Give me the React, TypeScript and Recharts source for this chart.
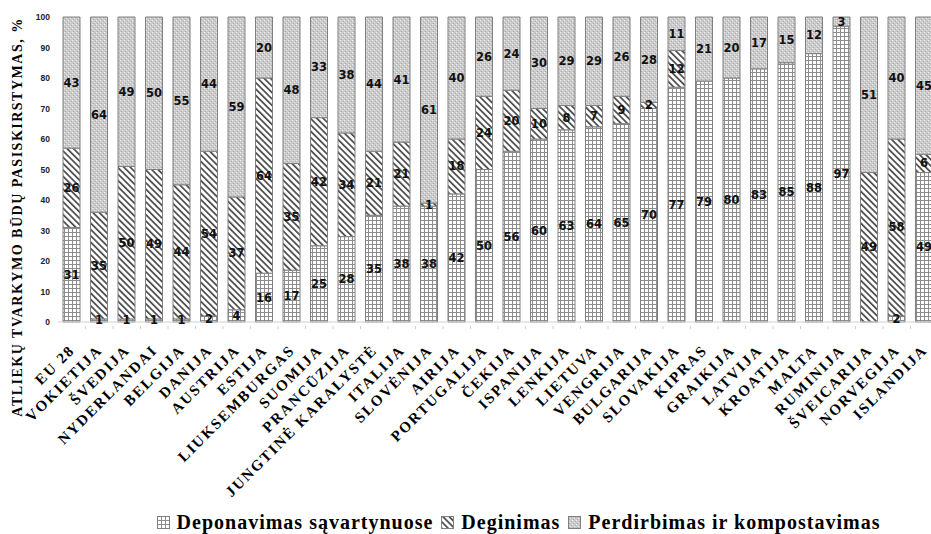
import React from 'react';
import { BarChart, Bar, XAxis, YAxis, Legend, LabelList, Label } from 'recharts';

const categories = ['EU 28','VOKIETIJA','ŠVEDIJA','NYDERLANDAI','BELGIJA','DANIJA','AUSTRIJA','ESTIJA','LIUKSEMBURGAS','SUOMIJA','PRANCŪZIJA','JUNGTINĖ KARALYSTĖ','ITALIJA','SLOVĖNIJA','AIRIJA','PORTUGALIJA','ČEKIJA','ISPANIJA','LENKIJA','LIETUVA','VENGRIJA','BULGARIJA','SLOVAKIJA','KIPRAS','GRAIKIJA','LATVIJA','KROATIJA','MALTA','RUMINIJA','ŠVEICARIJA','NORVEGIJA','ISLANDIJA'];
const deponavimas = [31,1,1,1,1,2,4,16,17,25,28,35,38,38,42,50,56,60,63,64,65,70,77,79,80,83,85,88,97,0,2,49];
const deginimas = [26,35,50,49,44,54,37,64,35,42,34,21,21,1,18,24,20,10,8,7,9,2,12,0,0,0,0,0,0,49,58,6];
const perdirbimas = [43,64,49,50,55,44,59,20,48,33,38,44,41,61,40,26,24,30,29,29,26,28,11,21,20,17,15,12,3,51,40,45];
const yTicks = [0,10,20,30,40,50,60,70,80,90,100];
const seriesNames = ['Deponavimas sąvartynuose','Deginimas','Perdirbimas ir kompostavimas'];
const yTitle = 'ATLIEKŲ  TVARKYMO  BŪDŲ PASISKIRSTYMAS, %';

const data = categories.map((c, i) => ({
  name: c,
  dep: deponavimas[i],
  deg: deginimas[i],
  per: perdirbimas[i],
}));

const fills = ['url(#patDep)', 'url(#patDeg)', 'url(#patPer)'];
const STROKE = '#808080';

const Patterns = () => (
  <svg width={0} height={0} style={{ position: 'absolute' }}>
    <defs>
      <pattern id="patDep" patternUnits="userSpaceOnUse" width={4} height={4}>
        <rect width={4} height={4} fill="#ffffff" />
        <rect x={0} y={0} width={4} height={1} fill="#8c8c8c" />
        <rect x={0} y={0} width={1} height={4} fill="#8c8c8c" />
      </pattern>
      <pattern id="patDeg" patternUnits="userSpaceOnUse" width={4.5} height={4.5} patternTransform="rotate(-45)">
        <rect width={4.5} height={4.5} fill="#ffffff" />
        <rect x={0} y={0} width={1.7} height={4.5} fill="#4a4a4a" />
      </pattern>
      <pattern id="patPer" patternUnits="userSpaceOnUse" width={4} height={4}>
        <rect width={4} height={4} fill="#cbcbcb" />
        <rect x={0} y={0} width={1} height={1} fill="#efefef" />
        <rect x={2} y={2} width={1} height={1} fill="#e8e8e8" />
        <rect x={1} y={3} width={1} height={1} fill="#a8a8a8" />
        <rect x={3} y={1} width={1} height={1} fill="#b0b0b0" />
      </pattern>
    </defs>
  </svg>
);

const XTick = (props: any) => {
  const { x, y, payload, width, visibleTicksCount } = props;
  const half = width / visibleTicksCount / 2;
  const ax = x + 4;
  const ay = y + 21;
  return (
    <g>
      <line x1={x + half} y1={y - 4} x2={x + half} y2={y - 1} stroke="#d0d0d0" />
      <text
        x={ax}
        y={ay}
        transform={`rotate(-45 ${ax} ${ay})`}
        textAnchor="end"
        fontFamily="'Liberation Serif', serif"
        fontWeight="bold"
        fontSize={15}
        letterSpacing={1.9}
        fill="#000"
      >
        {payload.value}
      </text>
    </g>
  );
};

const SegLabel = (props: any) => {
  const { x, y, width, height, value } = props;
  if (!value) return null;
  return (
    <text
      x={x + width / 2}
      y={y + height / 2}
      textAnchor="middle"
      dominantBaseline="central"
      fontFamily="'DejaVu Sans', sans-serif"
      fontWeight="bold"
      fontSize={11.5}
      fill="#111"
    >
      {value}
    </text>
  );
};

const LegendContent = () => (
  <div style={{ display: 'flex', justifyContent: 'center', alignItems: 'center', fontFamily: "'Liberation Serif', serif", fontWeight: 'bold', fontSize: 20, letterSpacing: 1.0, color: '#000', paddingLeft: 114 }}>
    {seriesNames.map((n, i) => (
      <div key={n} style={{ display: 'flex', alignItems: 'center', marginRight: 8 }}>
        <svg width={13} height={13} style={{ marginRight: 7 }}>
          <rect x={0.5} y={0.5} width={12} height={12} fill={fills[i]} stroke={STROKE} />
        </svg>
        <span>{n}</span>
      </div>
    ))}
  </div>
);

export default function App() {
  return (
    <div style={{ position: 'absolute', left: 0, top: 0, width: 931, height: 534, overflow: 'hidden', background: '#fff' }}>
      <Patterns />
      <BarChart
        width={940}
        height={534}
        data={data}
        margin={{ top: 17, right: 2, bottom: 0, left: 0 }}
        barSize={17}
      >
        <XAxis
          dataKey="name"
          interval={0}
          height={212}
          tickLine={false}
          axisLine={{ stroke: '#d0d0d0' }}
          tick={<XTick />}
        />
        <YAxis
          width={58}
          domain={[0, 100]}
          ticks={yTicks}
          tickLine={false}
          axisLine={false}
          tick={{ fontFamily: "'Liberation Sans', sans-serif", fontWeight: 'bold', fontSize: 8.5, fill: '#222' }}
        >
          <Label
            content={() => (
              <text
                x={22}
                y={217}
                transform="rotate(-90 22 217)"
                textAnchor="middle"
                fontFamily="'Liberation Serif', serif"
                fontWeight="bold"
                fontSize={14}
                letterSpacing={1.5}
                fill="#000"
              >
                {yTitle}
              </text>
            )}
          />
        </YAxis>
        <Legend
          layout="horizontal"
          verticalAlign="middle"
          align="center"
          content={<LegendContent />}
          wrapperStyle={{ top: 511, left: 0, width: 931, bottom: 'auto' }}
        />
        <Bar dataKey="dep" stackId="a" name={seriesNames[0]} fill={fills[0]} stroke={STROKE} strokeWidth={1} isAnimationActive={false}>
          <LabelList dataKey="dep" content={<SegLabel />} />
        </Bar>
        <Bar dataKey="deg" stackId="a" name={seriesNames[1]} fill={fills[1]} stroke={STROKE} strokeWidth={1} isAnimationActive={false}>
          <LabelList dataKey="deg" content={<SegLabel />} />
        </Bar>
        <Bar dataKey="per" stackId="a" name={seriesNames[2]} fill={fills[2]} stroke={STROKE} strokeWidth={1} isAnimationActive={false}>
          <LabelList dataKey="per" content={<SegLabel />} />
        </Bar>
      </BarChart>
    </div>
  );
}
